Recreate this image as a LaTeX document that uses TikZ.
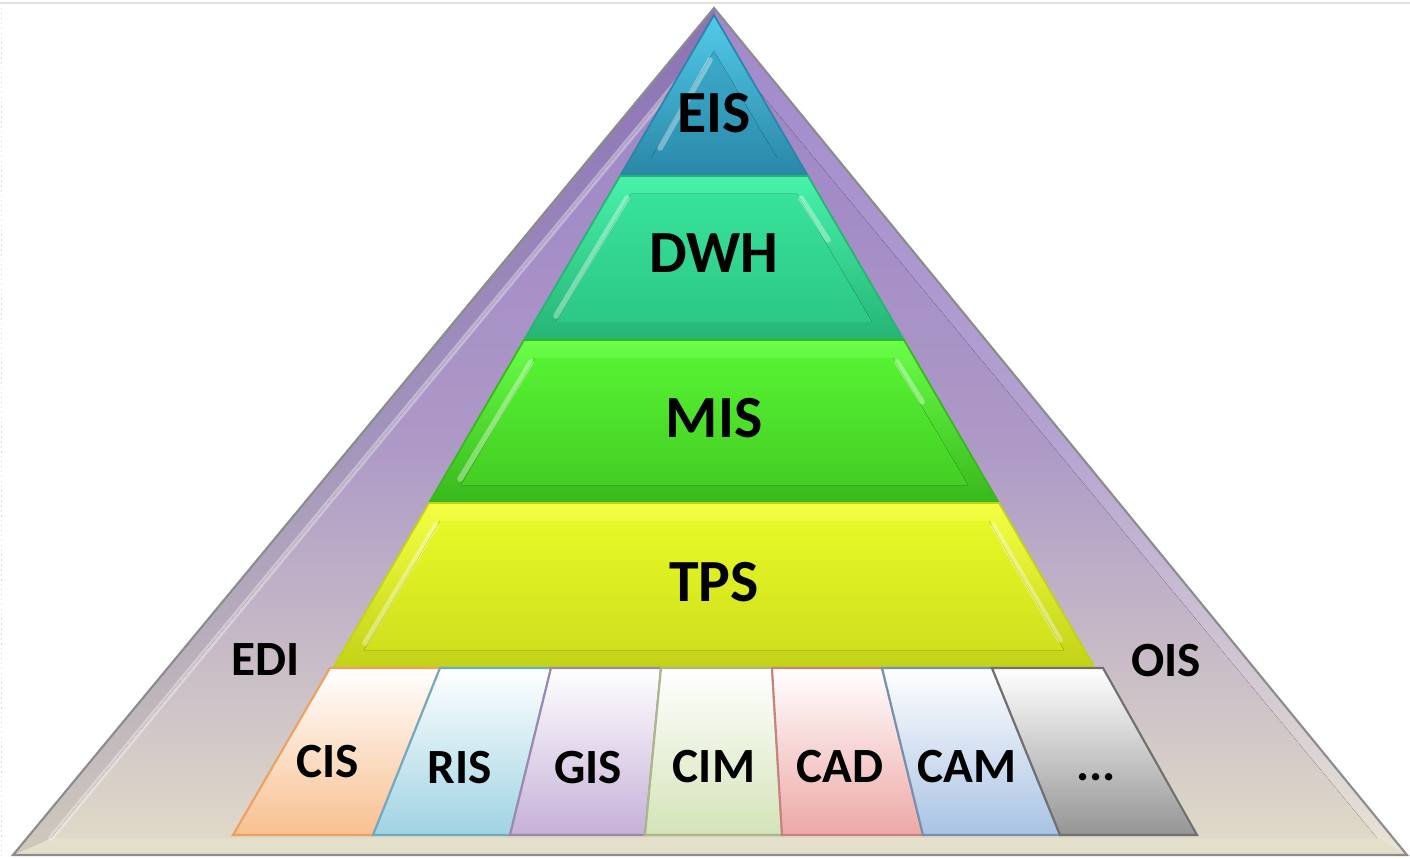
\documentclass[tikz,border=0pt]{standalone}
\usepackage{fontspec}
\setmainfont{Carlito}
\definecolor{lilacTop}{HTML}{A088CC}
\definecolor{lilacMid}{HTML}{B4A2D2}
\definecolor{sandBot}{HTML}{E8E4D4}
\definecolor{lilacDark}{HTML}{8C72B6}
\definecolor{lilacDarkMid}{HTML}{A294BC}
\definecolor{sandDark}{HTML}{CFC9BC}
\definecolor{faceTop}{HTML}{9C84C6}
\definecolor{faceMid}{HTML}{AD98C6}
\definecolor{faceBot}{HTML}{DFD9C8}
\definecolor{sandBand}{HTML}{E3DFCA}
\definecolor{eisHi}{HTML}{52CAEA}
\definecolor{eisLo}{HTML}{2A86A6}
\definecolor{eisFaceTop}{HTML}{3DAACB}
\definecolor{eisFaceBot}{HTML}{2E90B0}
\definecolor{dwhHi}{HTML}{48F2AA}
\definecolor{dwhLo}{HTML}{26B474}
\definecolor{dwhFaceTop}{HTML}{38E29A}
\definecolor{dwhFaceBot}{HTML}{2CC886}
\definecolor{misHi}{HTML}{6AFF48}
\definecolor{misLo}{HTML}{38B81C}
\definecolor{misFaceTop}{HTML}{56F232}
\definecolor{misFaceBot}{HTML}{44CE24}
\definecolor{tpsHi}{HTML}{F4FF44}
\definecolor{tpsLo}{HTML}{C2D216}
\definecolor{tpsFaceTop}{HTML}{E6F826}
\definecolor{tpsFaceBot}{HTML}{D0E01E}
\definecolor{cisFill}{HTML}{F8C090}
\definecolor{cisLine}{HTML}{EEA060}
\definecolor{risFill}{HTML}{9FD3E3}
\definecolor{risLine}{HTML}{70AAC0}
\definecolor{gisFill}{HTML}{C6B0D8}
\definecolor{gisLine}{HTML}{9A88B0}
\definecolor{cimFill}{HTML}{D4E4B8}
\definecolor{cimLine}{HTML}{A8B888}
\definecolor{cadFill}{HTML}{EDA8A6}
\definecolor{cadLine}{HTML}{C88080}
\definecolor{camFill}{HTML}{A9C3E4}
\definecolor{camLine}{HTML}{7890B0}
\definecolor{dotsFill}{HTML}{959595}
\definecolor{dotsLine}{HTML}{707070}
\begin{document}
\begin{tikzpicture}[x=0.01cm,y=-0.01cm,
  biglbl/.style={font=\fontsize{17}{20}\selectfont\bfseries,inner sep=0pt,anchor=base},
  smalllbl/.style={font=\fontsize{14}{17}\selectfont\bfseries,inner sep=0pt,anchor=base},
  shine/.style={white,opacity=0.35,line width=1.6pt,line cap=round},
  tab/.style={line width=0.6pt,top color=white}]
\useasboundingbox (0,0) rectangle (1410,858);
\fill[white] (0,0) rectangle (1410,858);
\draw[black!12,line width=0.8pt] (0,3) -- (1410,3);
\draw[black!15,densely dotted] (1.5,8) -- (1.5,858);

\coordinate (top) at (714,8);
\coordinate (bl) at (13,855);
\coordinate (br) at (1407,855);
\coordinate (itop) at (714,37);
\coordinate (il) at (51,838);
\coordinate (ir) at (1377,838);
\fill[top color=lilacTop, bottom color=sandBot, middle color=lilacMid] (top) -- (bl) -- (br) -- cycle;
\fill[top color=lilacDark, bottom color=sandDark, middle color=lilacDarkMid] (top) -- (bl) -- (il) -- (itop) -- cycle;
\fill[top color=faceTop, bottom color=faceBot, middle color=faceMid] (itop) -- (il) -- (ir) -- cycle;
\fill[sandBand] (bl) -- (il) -- (ir) -- (br) -- cycle;
\draw[shine] (itop) -- (il);
\draw[black!45,line width=0.6pt] (top) -- (bl) -- (br) -- cycle;

\coordinate (eisT) at (714,15);
\coordinate (eisL) at (620,176);
\coordinate (eisR) at (808,176);
\coordinate (dwhL) at (524,340);
\coordinate (dwhR) at (904,340);
\coordinate (misL) at (429,503);
\coordinate (misR) at (999,503);
\coordinate (tpsL) at (333,668);
\coordinate (tpsR) at (1095,668);

\filldraw[top color=eisHi, bottom color=eisLo, draw=eisLo, line width=0.5pt] (eisT) -- (eisR) -- (eisL) -- cycle;
\fill[top color=eisFaceTop, bottom color=eisFaceBot] (714,51) -- (777,158) -- (651,158) -- cycle;
\draw[shine] (710,60) -- (660,148);

\filldraw[top color=dwhHi, bottom color=dwhLo, draw=dwhLo, line width=0.5pt] (eisL) -- (eisR) -- (dwhR) -- (dwhL) -- cycle;
\fill[top color=dwhFaceTop, bottom color=dwhFaceBot] (631,194) -- (797,194) -- (872,322) -- (556,322) -- cycle;
\draw[shine] (627,198) -- (556,316);
\draw[shine] (801,198) -- (828,240);

\filldraw[top color=misHi, bottom color=misLo, draw=misLo, line width=0.5pt] (dwhL) -- (dwhR) -- (misR) -- (misL) -- cycle;
\fill[top color=misFaceTop, bottom color=misFaceBot] (535,358) -- (893,358) -- (968,485) -- (461,485) -- cycle;
\draw[shine] (531,362) -- (460,479);
\draw[shine] (897,362) -- (922,402);

\filldraw[top color=tpsHi, bottom color=tpsLo, draw=tpsLo, line width=0.5pt] (misL) -- (misR) -- (tpsR) -- (tpsL) -- cycle;
\fill[top color=tpsFaceTop, bottom color=tpsFaceBot] (440,521) -- (989,521) -- (1064,650) -- (364,650) -- cycle;
\draw[shine] (436,525) -- (365,643);
\draw[shine] (993,525) -- (1060,640);

\node[biglbl] (eis) at (714,133) {EIS};
\node[biglbl] (dwh) at (714,273) {DWH};
\node[biglbl] (mis) at (714,437) {MIS};
\node[biglbl] (tps) at (714,601) {TPS};

\coordinate (t0) at (330,668);
\coordinate (t1) at (440,668);
\coordinate (t2) at (551,668);
\coordinate (t3) at (661,668);
\coordinate (t4) at (772,668);
\coordinate (t5) at (882,668);
\coordinate (t6) at (992,668);
\coordinate (t7) at (1103,668);
\coordinate (b0) at (233,835);
\coordinate (b1) at (373,835);
\coordinate (b2) at (510,835);
\coordinate (b3) at (645,835);
\coordinate (b4) at (782,835);
\coordinate (b5) at (923,835);
\coordinate (b6) at (1060,835);
\coordinate (b7) at (1197,835);

\filldraw[tab, bottom color=cisFill, draw=cisLine] (t0) -- (t1) -- (b1) -- (b0) -- cycle;
\filldraw[tab, bottom color=risFill, draw=risLine] (t1) -- (t2) -- (b2) -- (b1) -- cycle;
\filldraw[tab, bottom color=gisFill, draw=gisLine] (t2) -- (t3) -- (b3) -- (b2) -- cycle;
\filldraw[tab, bottom color=cimFill, draw=cimLine] (t3) -- (t4) -- (b4) -- (b3) -- cycle;
\filldraw[tab, bottom color=cadFill, draw=cadLine] (t4) -- (t5) -- (b5) -- (b4) -- cycle;
\filldraw[tab, bottom color=camFill, draw=camLine] (t5) -- (t6) -- (b6) -- (b5) -- cycle;
\filldraw[tab, bottom color=dotsFill, draw=dotsLine] (t6) -- (t7) -- (b7) -- (b6) -- cycle;

\node[smalllbl] (cis) at (328,777) {CIS};
\node[smalllbl] (ris) at (460,783) {RIS};
\node[smalllbl] (gis) at (588,783) {GIS};
\node[smalllbl] (cim) at (714,782) {CIM};
\node[smalllbl] (cad) at (840,782) {CAD};
\node[smalllbl] (cam) at (967,782) {CAM};
\node[smalllbl] (dots) at (1096,780) {...};

\node[smalllbl] (edi) at (266,675) {EDI};
\node[smalllbl] (ois) at (1166,676) {OIS};
\end{tikzpicture}
\end{document}
